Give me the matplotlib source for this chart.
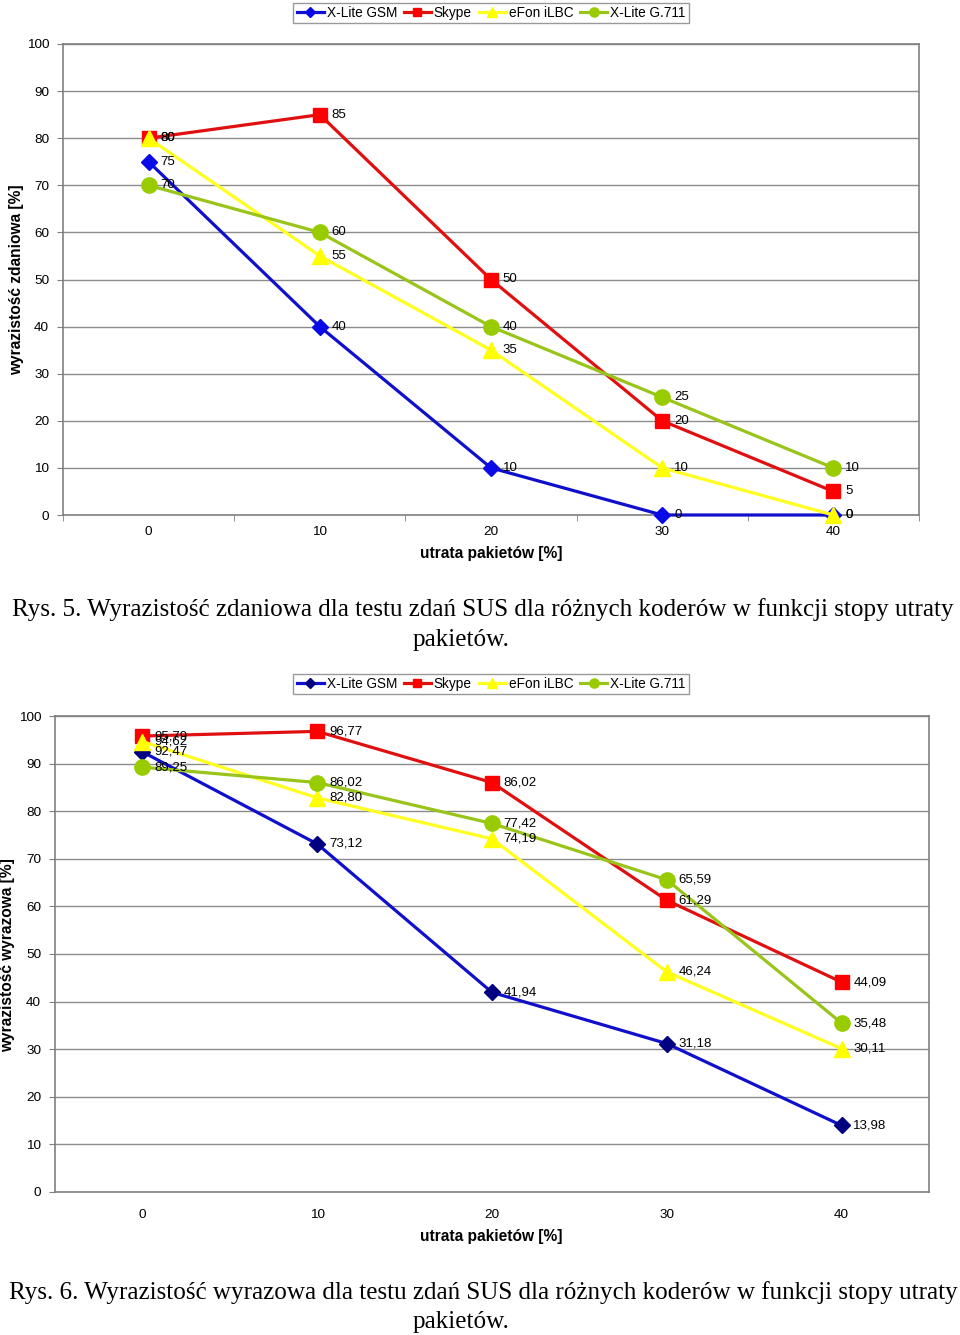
import matplotlib
matplotlib.use("Agg")
import matplotlib.pyplot as plt
from matplotlib.lines import Line2D

# ---------------- data ----------------
loss = [0, 10, 20, 30, 40]
series_names = ["X-Lite GSM", "Skype", "eFon iLBC", "X-Lite G.711"]

sent_gsm = [75, 40, 10, 0, 0]
sent_skype = [80, 85, 50, 20, 5]
sent_efon = [80, 55, 35, 10, 0]
sent_g711 = [70, 60, 40, 25, 10]

word_gsm = [92.47, 73.12, 41.94, 31.18, 13.98]
word_skype = [95.79, 96.77, 86.02, 61.29, 44.09]
word_efon = [94.62, 82.80, 74.19, 46.24, 30.11]
word_g711 = [89.25, 86.02, 77.42, 65.59, 35.48]

y_ticks = [0, 10, 20, 30, 40, 50, 60, 70, 80, 90, 100]

# ---------------- style ----------------
W, H = 960, 1335
fig = plt.figure(figsize=(W / 100, H / 100), dpi=100)
SANS = ["Liberation Sans", "DejaVu Sans"]
SERIF = ["Liberation Serif", "DejaVu Serif"]
plt.rcParams["font.family"] = SANS

styles = [
    dict(color="#1010CC", marker="D", ms=8.5, mfc="#0A0AE6", mec="#0A0AE6"),
    dict(color="#E01010", marker="s", ms=10, mfc="#FF0000", mec="#FF0000"),
    dict(color="#FFFF20", marker="^", ms=11, mfc="#FFFF00", mec="#FFFF00"),
    dict(color="#99C41A", marker="o", ms=11, mfc="#99CC00", mec="#99CC00"),
]


def fx(px):
    return px / W


def fy(py):
    return 1 - py / H


def make_axes(rect, series, fmt, gsm_marker_color=None, minor_ticks=True, xpad=8):
    ax = fig.add_axes(rect)
    xpos = list(range(len(loss)))
    for i, (vals, st) in enumerate(zip(series, styles)):
        mfc = st["mfc"]
        if i == 0 and gsm_marker_color:
            mfc = gsm_marker_color
        ax.plot(xpos, vals, color=st["color"], lw=2.3, marker=st["marker"],
                ms=st["ms"], mfc=mfc, mec=mfc, zorder=3 + i, clip_on=False)
        for x, v in zip(xpos, vals):
            ax.annotate(fmt(v), (x, v), xytext=(8.5, 0), textcoords="offset points",
                        ha="left", va="center", fontsize=9.5, color="black", zorder=10)
    ax.set_xlim(-0.5, len(loss) - 0.5)
    ax.set_ylim(0, 100)
    ax.set_yticks(y_ticks)
    ax.set_yticklabels([str(t) for t in y_ticks], fontsize=9.7)
    ax.set_xticks(xpos)
    ax.set_xticklabels([str(v) for v in loss], fontsize=9.7)
    if minor_ticks:
        ax.set_xticks([x - 0.5 for x in xpos] + [len(loss) - 0.5], minor=True)
    ax.tick_params(axis="x", which="major", length=0, pad=xpad)
    ax.tick_params(axis="x", which="minor", length=4, color="#808080", direction="out")
    ax.tick_params(axis="y", length=4, color="#808080", pad=6)
    ax.grid(axis="y", color="#8c8c8c", lw=1)
    ax.set_axisbelow(True)
    for s in ax.spines.values():
        s.set_color("#808080")
        s.set_linewidth(1.2)
    ax.set_facecolor("white")
    return ax


def leg_handles(gsm_marker_color=None):
    hs = []
    for i, st in enumerate(styles):
        mfc = st["mfc"]
        if i == 0 and gsm_marker_color:
            mfc = gsm_marker_color
        hs.append(Line2D([0], [0], color=st["color"], lw=2.3, marker=st["marker"],
                         ms=st["ms"] * 0.6, mfc=mfc, mec=mfc))
    return hs


LEG = dict(loc="center", ncol=4, fontsize=9.8, frameon=True, fancybox=False,
           edgecolor="#808080", handlelength=2.0, handletextpad=0.2,
           columnspacing=0.5, borderpad=0.25)

# ---------- top chart ----------
ax1 = make_axes([fx(63), fy(515), fx(919) - fx(63), fy(44) - fy(515)],
                [sent_gsm, sent_skype, sent_efon, sent_g711], lambda v: f"{v:d}")
leg1 = fig.legend(leg_handles(), series_names, bbox_to_anchor=(fx(491), fy(13)), **LEG)
leg1.get_frame().set_linewidth(1.0)
fig.text(fx(17), fy(280), "wyrazistość zdaniowa [%]", rotation=90, ha="center",
         va="center", fontsize=11.2, fontweight="bold")
fig.text(fx(491), fy(554), "utrata pakietów [%]", ha="center", va="center",
         fontsize=11.2, fontweight="bold")
fig.text(fx(483), fy(610),
         "Rys. 5. Wyrazistość zdaniowa dla testu zdań SUS dla różnych koderów w funkcji stopy utraty",
         ha="center", va="center", fontsize=18.1, family=SERIF)
fig.text(fx(461), fy(640), "pakietów.", ha="center", va="center", fontsize=18.1, family=SERIF)

# ---------- bottom chart ----------
ax2 = make_axes([fx(55), fy(1192), fx(929) - fx(55), fy(716) - fy(1192)],
                [word_gsm, word_skype, word_efon, word_g711],
                lambda v: f"{v:.2f}".replace(".", ","), gsm_marker_color="#000080",
                minor_ticks=False, xpad=12)
leg2 = fig.legend(leg_handles("#000080"), series_names,
                  bbox_to_anchor=(fx(491), fy(684)), **LEG)
leg2.get_frame().set_linewidth(1.0)
fig.text(fx(8), fy(955), "wyrazistość wyrazowa [%]", rotation=90, ha="center",
         va="center", fontsize=11.2, fontweight="bold")
fig.text(fx(491), fy(1236), "utrata pakietów [%]", ha="center", va="center",
         fontsize=11.2, fontweight="bold")
fig.text(fx(483), fy(1293),
         "Rys. 6. Wyrazistość wyrazowa dla testu zdań SUS dla różnych koderów w funkcji stopy utraty",
         ha="center", va="center", fontsize=18.1, family=SERIF)
fig.text(fx(461), fy(1322), "pakietów.", ha="center", va="center", fontsize=18.1, family=SERIF)

fig.savefig("out.png", dpi=100, facecolor="white")
